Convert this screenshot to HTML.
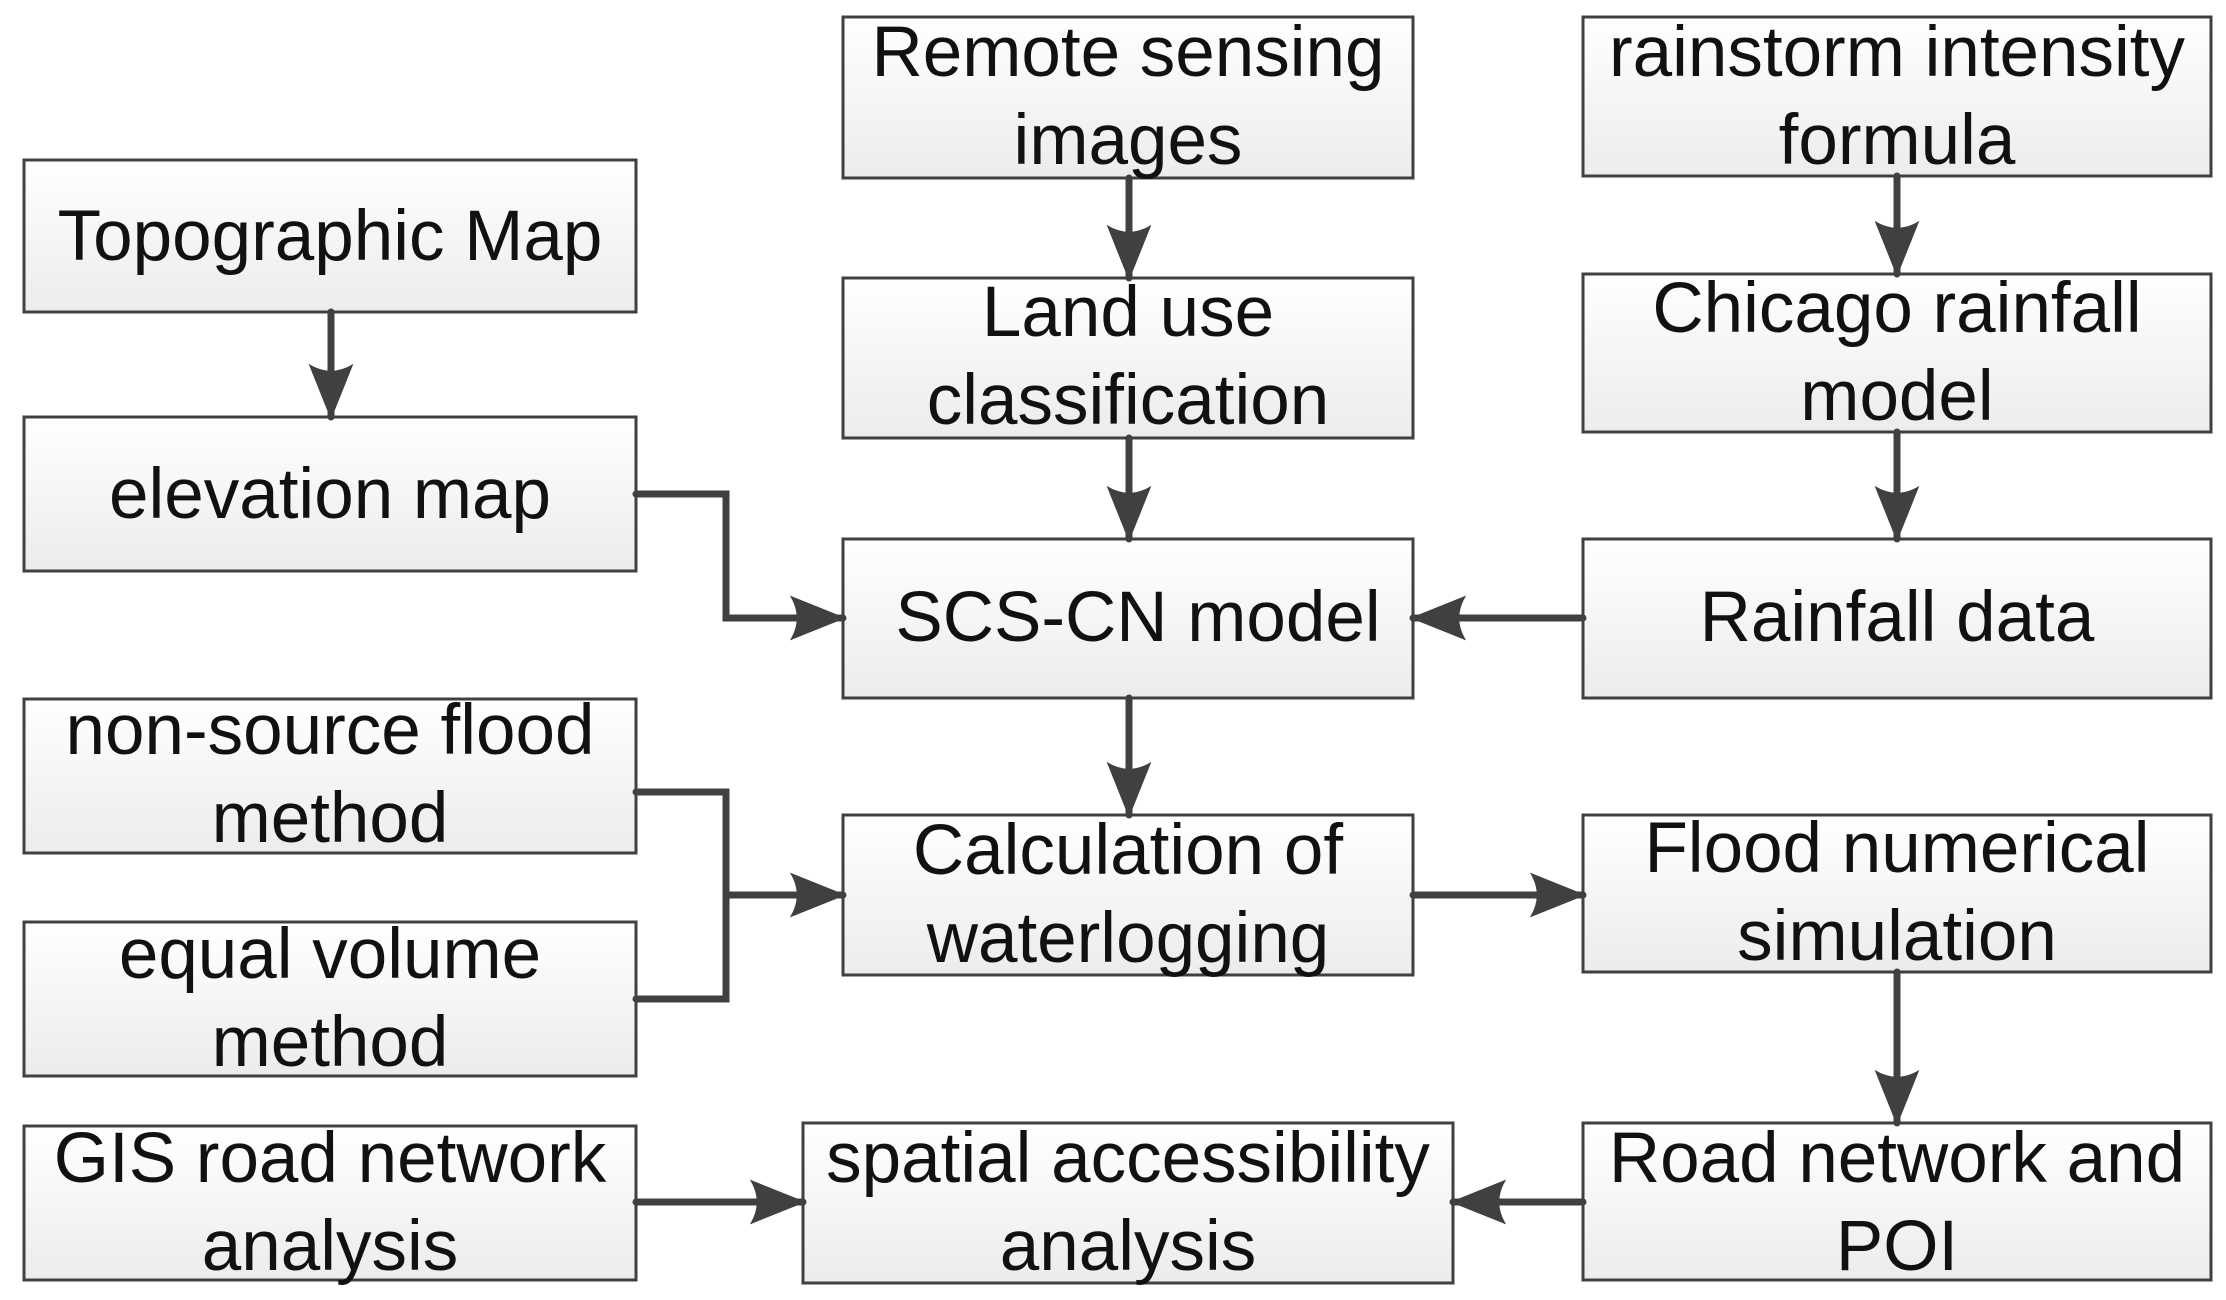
<!DOCTYPE html>
<html><head><meta charset="utf-8"><style>
html,body{margin:0;padding:0;background:#fff;}
svg{display:block;}
text{font-family:"Liberation Sans Narrow","Liberation Sans",sans-serif;font-size:71px;fill:#111;text-anchor:middle;}
</style></head><body>
<svg width="2226" height="1300" viewBox="0 0 2226 1300" xmlns="http://www.w3.org/2000/svg">
<defs>
<linearGradient id="g" x1="0" y1="0" x2="0" y2="1"><stop offset="0" stop-color="#ffffff"/><stop offset="1" stop-color="#ececec"/></linearGradient>
<marker id="a" viewBox="0 0 20 16" refX="19" refY="8" markerWidth="8" markerHeight="6.4" markerUnits="strokeWidth" orient="auto">
<path d="M0,0 L20,8 L0,16 Q5,8 0,0 Z" fill="#404040"/></marker>
</defs>
<g stroke="#404040" stroke-width="3" fill="url(#g)">
<rect x="24" y="160" width="612" height="152"/>
<rect x="24" y="417" width="612" height="154"/>
<rect x="24" y="699" width="612" height="154"/>
<rect x="24" y="922" width="612" height="154"/>
<rect x="24" y="1126" width="612" height="154"/>
<rect x="843" y="17" width="570" height="161"/>
<rect x="843" y="278" width="570" height="160"/>
<rect x="843" y="539" width="570" height="159"/>
<rect x="843" y="815" width="570" height="160"/>
<rect x="803" y="1123" width="650" height="160"/>
<rect x="1583" y="17" width="628" height="159"/>
<rect x="1583" y="274" width="628" height="158"/>
<rect x="1583" y="539" width="628" height="159"/>
<rect x="1583" y="815" width="628" height="157"/>
<rect x="1583" y="1123" width="628" height="157"/>
</g>
<g stroke="#404040" stroke-width="7" fill="none" stroke-linecap="round" stroke-linejoin="miter">
<path d="M331 312 V417" marker-end="url(#a)"/>
<path d="M1129 178 V278" marker-end="url(#a)"/>
<path d="M1129 438 V539" marker-end="url(#a)"/>
<path d="M1129 698 V815" marker-end="url(#a)"/>
<path d="M1897 176 V274" marker-end="url(#a)"/>
<path d="M1897 432 V539" marker-end="url(#a)"/>
<path d="M1583 618 H1413" marker-end="url(#a)"/>
<path d="M636 494 H726 V618 H843" marker-end="url(#a)"/>
<path d="M636 792 H726 V999 H636"/>
<path d="M726 895 H843" marker-end="url(#a)"/>
<path d="M1413 895 H1583" marker-end="url(#a)"/>
<path d="M1897 972 V1123" marker-end="url(#a)"/>
<path d="M1583 1202 H1453" marker-end="url(#a)"/>
<path d="M636 1202 H803" marker-end="url(#a)"/>
</g>
<text x="330" y="260">Topographic Map</text>
<text x="330" y="518">elevation map</text>
<text x="330" y="754">non-source flood</text>
<text x="330" y="842">method</text>
<text x="330" y="978">equal volume</text>
<text x="330" y="1066">method</text>
<text x="330" y="1182">GIS road network</text>
<text x="330" y="1270">analysis</text>
<text x="1128" y="76">Remote sensing</text>
<text x="1128" y="164">images</text>
<text x="1128" y="336">Land use</text>
<text x="1128" y="424">classification</text>
<text x="1138" y="641">SCS-CN model</text>
<text x="1128" y="874">Calculation of</text>
<text x="1128" y="962">waterlogging</text>
<text x="1128" y="1182">spatial accessibility</text>
<text x="1128" y="1270">analysis</text>
<text x="1897" y="76">rainstorm intensity</text>
<text x="1897" y="164">formula</text>
<text x="1897" y="332">Chicago rainfall</text>
<text x="1897" y="420">model</text>
<text x="1897" y="641">Rainfall data</text>
<text x="1897" y="872">Flood numerical</text>
<text x="1897" y="960">simulation</text>
<text x="1897" y="1182">Road network and</text>
<text x="1897" y="1270">POI</text>
</svg>
</body></html>
